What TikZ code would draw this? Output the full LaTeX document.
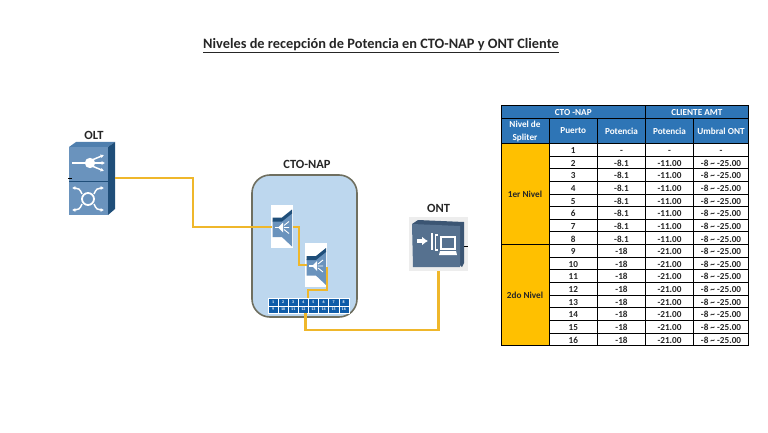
\documentclass[tikz,border=0pt]{standalone}
\usepackage{fontspec}
\setmainfont{Carlito}
\usetikzlibrary{arrows.meta,positioning,calc}
\definecolor{Fibre}{HTML}{EFB72B}
\definecolor{HeadBlue}{HTML}{2E75B6}
\definecolor{Gold}{HTML}{FFC000}
\definecolor{NapFill}{HTML}{BDD7EE}
\definecolor{NapEdge}{HTML}{6F6F60}
\definecolor{PortBlue}{HTML}{0F5CA8}
\definecolor{IconBlue}{HTML}{6A93BD}
\definecolor{IconSide}{HTML}{1F4E79}
\definecolor{IconTop}{HTML}{4F7FAE}
\definecolor{OntBlue}{HTML}{56718F}
\definecolor{OntDark}{HTML}{3B5573}
\definecolor{Ink}{HTML}{262626}
\tikzset{
  every node/.append style={inner sep=0pt, outer sep=0pt},
  lbl/.style={font=\bfseries\fontsize{12.5}{14}\selectfont, text=Ink},
  fibre/.style={draw=Fibre, line width=2.2pt},
  glyph/.style={draw=white, line width=1.5pt},
  glyphtip/.style={glyph, -{Latex[length=3.4pt,width=4pt]}},
  cell/.style={draw=black, line width=1pt, fill=white, text=Ink, align=center,
               font=\bfseries\fontsize{9.2}{13}\selectfont},
  rowcell/.style={cell, text height=7.5pt, minimum height=12.64pt},
  head/.style={cell, fill=HeadBlue, text=white},
  lvl/.style={cell, fill=Gold},
  port/.style={draw=white, line width=0.3pt, fill=PortBlue, text=white,
               minimum width=10.1pt, minimum height=7.5pt,
               font=\bfseries\fontsize{4}{4}\selectfont},
  whitebox/.style={fill=white, minimum width=22pt, minimum height=43pt},
  splitter/.pic={
    \fill[IconBlue] (-9.3,-6) -- (0,-6) -- (10,-14) -- (10,20) -- (0,10.6) -- (-9.3,10.6) -- cycle;
    \fill[IconSide] (-9.3,-9) -- (0,-9) -- (10,-17) -- (10,-13) -- (0,-5) -- (-9.3,-5) -- cycle;
    \draw[glyph, line width=1.4pt] (-7,1) -- (-2,1);
    \fill[white] (-4,1) -- (1,-4) -- (1,6) -- cycle;
    \draw[white, line width=0.9pt] (2,1) -- (7,1) (2,-1) -- (7,-5) (2,3) -- (7,7);
  },
}
\begin{document}
\begin{tikzpicture}[x=1pt,y=-1pt]
  \useasboundingbox (0,0) rectangle (768,433);
  \node[font=\bfseries\fontsize{14.35}{17}\selectfont, text=Ink] (title) at (381,46)
    {\underline{Niveles de recepción de Potencia en CTO-NAP y ONT Cliente}};

  % OLT
  \fill[IconTop] (69,147) -- (76,142) -- (115,142) -- (108,147) -- cycle;
  \fill[IconSide] (108,147) -- (115,142) -- (115,209) -- (108,215) -- cycle;
  \node[fill=IconBlue, minimum width=39pt, minimum height=68pt] (olt) at (88.5,181) {};
  \node[lbl, above=7pt of olt, xshift=5.5pt] (oltlbl) {OLT};
  \draw[IconSide, line width=1pt] (olt.west) -- (olt.east);
  \draw[black, line width=0.9pt] (68,178) -- (72,178);
  \draw[glyph, line width=2pt] (72,163) -- (86,163);
  \fill[white] (90,163) circle (5.2);
  \draw[glyphtip] (92,160) -- (104,155);
  \draw[glyphtip] (94,163) -- (105,163);
  \draw[glyphtip] (92,166) -- (104,171);
  \draw[glyph, line width=1.8pt] (88,199) circle (6);
  \draw[glyphtip] (82,194) .. controls (80,189) and (78,188) .. (72,188);
  \draw[glyphtip] (94,194) .. controls (96,189) and (98,188) .. (104,188);
  \draw[glyphtip] (82,204) .. controls (80,209) and (78,210) .. (72,210);
  \draw[glyphtip] (94,204) .. controls (96,209) and (98,210) .. (104,210);

  % CTO-NAP
  \node[draw=NapEdge, line width=1.6pt, fill=NapFill, rounded corners=18pt,
        minimum width=105pt, minimum height=142pt] (nap) at (304.5,246) {};
  \node[lbl, above=6pt of nap, xshift=2.5pt] (naplbl) {CTO-NAP};
  \node[whitebox] (spa) at (282,226.5) {};
  \node[whitebox, minimum height=44pt] (spb) at (316,265) {};
  \pic at (spa) {splitter};
  \pic at (spb) {splitter};
  \foreach \n [evaluate=\n as \px using {268+(\n-0.5)*10.1}] in {1,...,8} {
    \node[port] (pt\n) at (\px,302) {\n};
  }
  \foreach \n [evaluate=\n as \px using {268+(\n-8.5)*10.1}] in {9,...,16} {
    \node[port] (pt\n) at (\px,309.5) {\n};
  }

  % ONT
  \node[fill=black!7, minimum width=59pt, minimum height=54pt] (ont) at (438.5,244) {};
  \node[lbl, above=4pt of ont] (ontlbl) {ONT};
  \fill[OntDark] (412,224) -- (418,220) -- (464,222) -- (464,263) -- (462,267) -- cycle;
  \fill[OntBlue] (412,224) -- (460,226) -- (460,267) -- (413,267) -- cycle;
  \draw[black, line width=1pt] (464,246) -- (468,246);
  \draw[glyph, -{Latex[length=6pt,width=9pt]}, line width=3.2pt] (417,241) -- (428,241);
  \draw[glyph, line width=2pt] (431.5,233) -- (431.5,250);
  \draw[glyph, line width=1.6pt] (438,235) -- (435.5,235) -- (435.5,250) -- (438,250);
  \draw[glyph, line width=1.8pt, fill=OntBlue] (441,237) rectangle (455,249);
  \fill[white] (440,251) -- (456,251) -- (457,255) -- (439,255) -- cycle;

  % fibre
  \coordinate (oltp) at (115,178);
  \coordinate (benda) at (193,227);
  \coordinate (spain) at (272,227);
  \coordinate (spaout) at (293,227);
  \coordinate (bendb) at (299,265);
  \coordinate (spbin) at (307,265);
  \coordinate (spbout) at (327,267);
  \coordinate (bendc) at (327,290);
  \coordinate (bendd) at (308,290);
  \coordinate (napin) at (308,298);
  \coordinate (napout) at (305.5,313);
  \coordinate (bende) at (305.5,330);
  \draw[fibre] (oltp) -| (benda) -- (spain);
  \draw[fibre] (spaout) -| (bendb) -- (spbin);
  \draw[fibre] (spbout) -- (bendc) -- (bendd) -- (napin);
  \draw[fibre] (napout) -- (bende) -| (ont.south);

  % table
  \node[head, minimum width=144.5pt, minimum height=12.5pt] (hnap) at (573.25,112.25) {CTO -NAP};
  \node[head, minimum width=103pt, minimum height=12.5pt] (hcli) at (697,112.25) {CLIENTE AMT};
  \node[head, minimum width=48pt, minimum height=25pt] (hniv) at (525,131) {Nivel de\\Spliter};
  \foreach \nm/\tx/\cx/\w in {hpue/Puerto/573.25/48.5,hpot/Potencia/621.5/48,hpc/Potencia/669.5/48,humb/Umbral ONT/721/55} {
    \node[head, minimum width=\w pt, minimum height=25pt] (\nm) at (\cx,131) {\tx};
  }
  \node[lvl, minimum width=48pt, minimum height=101.1pt] (lvla) at (525,194.05) {1er Nivel};
  \node[lvl, minimum width=48pt, minimum height=101.1pt] (lvlb) at (525,295.15) {2do Nivel};
  \foreach \n/\pa/\pb/\um in {1/-/-/-,
      2/-8.1/-11.00/x,3/-8.1/-11.00/x,4/-8.1/-11.00/x,5/-8.1/-11.00/x,
      6/-8.1/-11.00/x,7/-8.1/-11.00/x,8/-8.1/-11.00/x,
      9/-18/-21.00/x,10/-18/-21.00/x,11/-18/-21.00/x,12/-18/-21.00/x,
      13/-18/-21.00/x,14/-18/-21.00/x,15/-18/-21.00/x,16/-18/-21.00/x} {
    \pgfmathsetmacro{\ry}{143.5+(\n-0.5)*12.64}
    \node[rowcell, minimum width=48.5pt] (ra\n) at (573.25,\ry) {\n};
    \node[rowcell, minimum width=48pt] (rb\n) at (621.5,\ry) {\pa};
    \node[rowcell, minimum width=48pt] (rc\n) at (669.5,\ry) {\pb};
    \ifnum\n=1
      \node[rowcell, minimum width=55pt] (rd\n) at (721,\ry) {-};
    \else
      \node[rowcell, minimum width=55pt] (rd\n) at (721,\ry) {-8 \textasciitilde{} -25.00};
    \fi
  }
\end{tikzpicture}
\end{document}
